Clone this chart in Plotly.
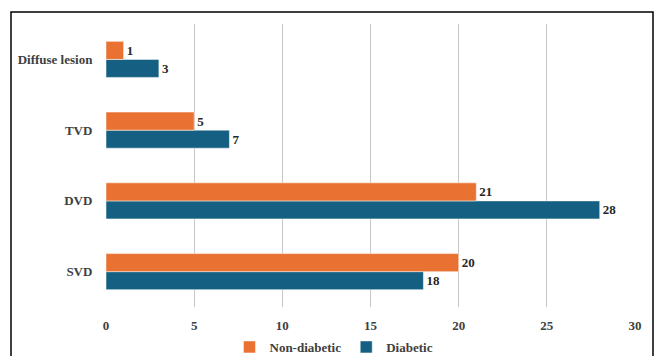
import plotly.graph_objects as go

categories = ["SVD", "DVD", "TVD", "Diffuse lesion"]
non_diabetic = [20, 21, 5, 1]
diabetic = [18, 28, 7, 3]
x_ticks = [0, 5, 10, 15, 20, 25, 30]

ORANGE = "#E97132"
BLUE = "#156082"
FONT = "Liberation Serif"

label_font = dict(family=FONT, size=13, color="#262626", weight="bold")
tick_font = dict(family=FONT, size=13, color="#404040", weight="bold")

fig = go.Figure()
fig.add_trace(go.Bar(
    y=categories, x=diabetic, name="Diabetic", orientation="h",
    marker=dict(color=BLUE, line=dict(color="white", width=0.5)),
    text=diabetic, textposition="outside", cliponaxis=False,
    textfont=label_font, legendrank=2,
))
fig.add_trace(go.Bar(
    y=categories, x=non_diabetic, name="Non-diabetic", orientation="h",
    marker=dict(color=ORANGE, line=dict(color="white", width=0.5)),
    text=non_diabetic, textposition="outside", cliponaxis=False,
    textfont=label_font, legendrank=1,
))

fig.update_layout(
    width=656, height=356,
    margin=dict(l=106, r=21, t=24, b=49, autoexpand=False),
    paper_bgcolor="white", plot_bgcolor="white",
    barmode="group", bargap=0.49, bargroupgap=0,
    font=dict(family=FONT, size=13, color="#404040"),
    showlegend=True,
    legend=dict(orientation="h", x=0.431, xanchor="center",
                y=(307 - 347) / 283, yanchor="middle",
                bgcolor="rgba(0,0,0,0)",
                font=dict(family=FONT, size=13, color="#404040", weight="bold"),
                itemwidth=30, tracegroupgap=0),
    xaxis=dict(range=[0, 30], tickvals=x_ticks, showgrid=True, gridcolor="#C8C8C8",
               gridwidth=1, zeroline=False, showline=False, automargin=False,
               ticks="outside", ticklen=6, tickcolor="rgba(0,0,0,0)",
               tickfont=tick_font),
    yaxis=dict(categoryorder="array", categoryarray=categories, showgrid=False,
               zeroline=False, showline=False, automargin=False,
               ticks="outside", ticklen=10, tickcolor="rgba(0,0,0,0)",
               tickfont=tick_font),
    shapes=[dict(type="rect", xref="paper", yref="paper",
                 x0=(11 - 106) / 529, x1=(653 - 106) / 529,
                 y0=-0.3, y1=(307 - 12) / 283,
                 line=dict(color="black", width=1.5), fillcolor="rgba(0,0,0,0)",
                 layer="below")],
)

fig.write_html("out.html")
